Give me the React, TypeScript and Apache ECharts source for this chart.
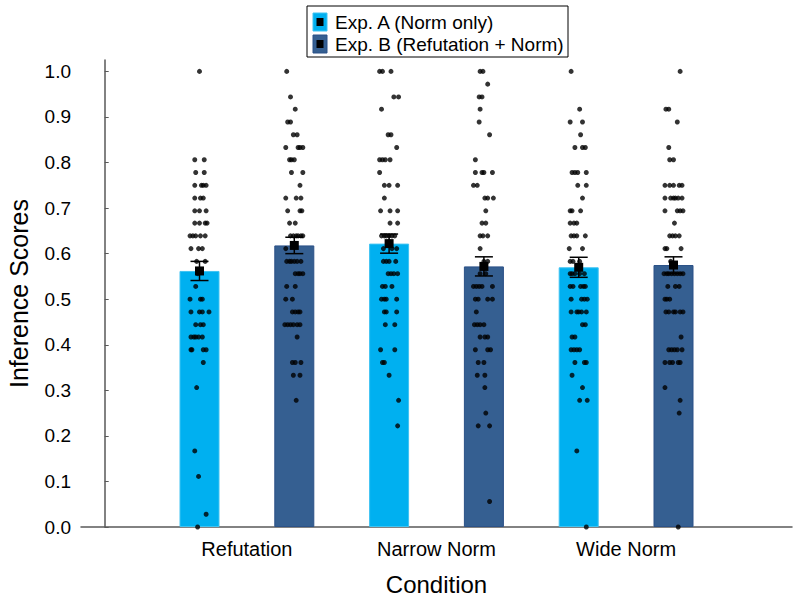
import React, { useEffect, useRef } from "react";
import * as echarts from "echarts";

const categories = ["Refutation", "Narrow Norm", "Wide Norm"];
const categoryPos = [1.5, 3.5, 5.5];
const seriesNames = ["Exp. A (Norm only)", "Exp. B (Refutation + Norm)"];
const colorA = "#00B0F0";
const colorB = "#355F91";

// bar positions on the x value axis
const posA = [1, 3, 5];
const posB = [2, 4, 6];
const meansA = [0.562, 0.622, 0.570];
const meansB = [0.618, 0.572, 0.575];
const seA = [0.021, 0.021, 0.022];
const seB = [0.018, 0.021, 0.018];

// individual scores: [value, jitter offsets in x units]
type Row = [number, number[]];
const ptsRefA: Row[] = [
  [1.0, [0.0]], [0.806, [-0.05, 0.05]], [0.778, [-0.04, 0.05]], [0.75, [-0.05, 0.02, 0.04, 0.07]],
  [0.722, [-0.05, 0.01, 0.04]], [0.694, [-0.05, 0.0, 0.07]], [0.667, [-0.05, 0.0, 0.06, 0.08]],
  [0.639, [-0.1, -0.07, -0.04, 0.01, 0.06]], [0.611, [-0.09, -0.01, 0.03]], [0.583, [-0.03, 0.06]],
  [0.556, [-0.02]], [0.528, [-0.04]], [0.5, [-0.1, 0.01, 0.03]], [0.472, [-0.09, 0.0, 0.03, 0.1]],
  [0.444, [-0.04, 0.01, 0.04]], [0.417, [-0.09, -0.06, -0.04, -0.01, 0.03]], [0.389, [-0.09, -0.08, 0.04, 0.07]],
  [0.361, [0.04]], [0.306, [-0.03]], [0.167, [-0.05]], [0.111, [-0.01]], [0.028, [0.07]], [0.0, [-0.02]],
];
const ptsRefB: Row[] = [
  [1.0, [-0.08]], [0.944, [-0.04]], [0.917, [0.01]], [0.889, [-0.07, -0.04]], [0.861, [-0.01, 0.03]],
  [0.833, [-0.09, 0.04, 0.06, 0.09]], [0.806, [-0.05, -0.03, 0.0]], [0.778, [-0.03, 0.09]], [0.75, [0.06]],
  [0.722, [-0.09, 0.02, 0.07]], [0.694, [-0.07, 0.06, 0.08]], [0.667, [-0.05, 0.01]],
  [0.639, [-0.04, -0.01, 0.02, 0.04, 0.07, 0.09]], [0.611, [-0.09]], [0.583, [-0.08, -0.05, -0.03, 0.0, 0.03, 0.07]],
  [0.556, [0.01, 0.04, 0.06, 0.09]], [0.528, [-0.08, 0.01]], [0.5, [-0.09, -0.02]], [0.472, [-0.02, 0.01, 0.04, 0.06]],
  [0.444, [-0.1, -0.07, -0.04, -0.01, 0.03, 0.06]], [0.417, [0.03]], [0.361, [-0.02, 0.01, 0.07]],
  [0.333, [-0.01, 0.06]], [0.278, [0.02]],
];
const ptsNarA: Row[] = [
  [1.0, [-0.1, -0.07, 0.02]], [0.944, [0.05, 0.1]], [0.917, [-0.08]], [0.861, [-0.01, 0.02]], [0.833, [0.08]],
  [0.806, [-0.1, -0.07, -0.04, 0.01]], [0.778, [-0.1]], [0.75, [-0.05, 0.0, 0.09]], [0.722, [-0.05]],
  [0.694, [-0.09, 0.01, 0.09]], [0.667, [0.01, 0.09]], [0.639, [-0.08, -0.05, -0.03, 0.0, 0.03, 0.06]],
  [0.611, [-0.06, 0.03, 0.08]], [0.583, [-0.06, -0.03, 0.0, 0.07]], [0.556, [-0.01, 0.02, 0.05, 0.09]],
  [0.528, [-0.07, -0.04, 0.03]], [0.5, [-0.08, -0.05, -0.03, 0.08]], [0.472, [-0.05, -0.03, 0.08]],
  [0.444, [-0.04, 0.06]], [0.389, [-0.09, 0.06]], [0.361, [-0.07, -0.05]], [0.333, [0.0]], [0.278, [0.1]], [0.222, [0.09]],
];
const ptsNarB: Row[] = [
  [1.0, [-0.04, -0.01]], [0.972, [0.04]], [0.944, [-0.05, -0.02]], [0.917, [-0.04]], [0.889, [-0.05]], [0.861, [0.06]],
  [0.806, [-0.09]], [0.778, [-0.09, -0.02, 0.0, 0.09]], [0.75, [-0.11, -0.07]], [0.722, [0.01, 0.04, 0.1]],
  [0.694, [0.02]], [0.667, [-0.02, 0.02]], [0.639, [-0.04, -0.01, 0.04]], [0.611, [-0.04]], [0.583, [0.0, 0.04]],
  [0.556, [-0.04, 0.02]], [0.528, [-0.11, -0.08, -0.05, -0.02, 0.09]], [0.5, [-0.09, -0.06, 0.04, 0.09]],
  [0.472, [-0.08]], [0.444, [-0.1, -0.07, -0.04, 0.0]], [0.417, [-0.04, 0.01, 0.04]], [0.389, [-0.09, 0.04, 0.07]],
  [0.361, [-0.06, 0.0]], [0.333, [-0.07, 0.01]], [0.306, [0.01]], [0.25, [0.02]], [0.222, [-0.06, 0.06]], [0.056, [0.06]],
];
const ptsWideA: Row[] = [
  [1.0, [-0.08]], [0.917, [0.01]], [0.889, [-0.09, 0.04]], [0.861, [0.02]], [0.833, [-0.04, 0.04, 0.07]],
  [0.778, [-0.07, -0.04, -0.01, 0.08]], [0.75, [-0.01, 0.08]], [0.722, [0.04]], [0.694, [-0.09, -0.07, 0.02]],
  [0.667, [-0.09, -0.05, -0.02]], [0.639, [-0.08, -0.05, -0.02, 0.07]], [0.611, [-0.1, 0.04]],
  [0.583, [-0.09, -0.06, 0.01]], [0.556, [-0.09, -0.07, -0.04, 0.01, 0.06]], [0.528, [-0.09, -0.06, 0.02, 0.05, 0.07]],
  [0.5, [-0.08, 0.03, 0.06, 0.09]], [0.472, [-0.08, -0.02, 0.0, 0.03, 0.08]], [0.444, [0.04, 0.07]],
  [0.417, [-0.07, -0.04]], [0.389, [-0.08, -0.05, -0.02, 0.01]], [0.361, [-0.04, 0.06, 0.08]], [0.333, [-0.07]],
  [0.306, [0.04]], [0.278, [0.01, 0.09]], [0.167, [-0.02]], [0.0, [0.08]],
];
const ptsWideB: Row[] = [
  [1.0, [0.07]], [0.917, [-0.08, -0.05]], [0.889, [0.04]], [0.833, [-0.05]], [0.806, [-0.04, 0.0]],
  [0.75, [-0.09, -0.04, 0.0, 0.06, 0.09]], [0.722, [-0.09, -0.03, 0.0, 0.02, 0.05, 0.09]],
  [0.694, [-0.09, 0.04, 0.07, 0.1]], [0.667, [0.01]], [0.639, [-0.04, -0.01, 0.02, 0.06]], [0.611, [-0.09, -0.07, 0.08]],
  [0.583, [-0.03]], [0.556, [-0.1, -0.07, -0.05, -0.02, 0.01, 0.04, 0.07, 0.1]], [0.528, [-0.06, 0.02, 0.06]],
  [0.5, [-0.09, -0.07, -0.04]], [0.472, [-0.08, -0.05, 0.0, 0.02, 0.07, 0.1]], [0.417, [0.08]],
  [0.389, [-0.05, -0.02, 0.01, 0.04, 0.09]], [0.361, [-0.09, -0.04, -0.01, 0.05, 0.07]], [0.306, [-0.09]],
  [0.278, [0.07]], [0.25, [0.06]], [0.0, [0.05]],
];

const yTicks = { min: 0, max: 1.025, interval: 0.1 };
const FONT = "Liberation Sans, Arial, Helvetica, sans-serif";

function flatten(rows: Row[], pos: number): number[][] {
  const out: number[][] = [];
  rows.forEach(([v, dxs]) => dxs.forEach((dx) => out.push([pos + dx, v])));
  return out;
}

export default function App() {
  const ref = useRef<HTMLDivElement>(null);
  useEffect(() => {
    document.body.style.margin = "0";
    if (!ref.current) return;
    const chart = echarts.init(ref.current, undefined, { renderer: "svg" });

    const points = [
      ...flatten(ptsRefA, posA[0]), ...flatten(ptsRefB, posB[0]),
      ...flatten(ptsNarA, posA[1]), ...flatten(ptsNarB, posB[1]),
      ...flatten(ptsWideA, posA[2]), ...flatten(ptsWideB, posB[2]),
    ];
    const errData = [
      ...posA.map((p, i) => [p, meansA[i], seA[i]]),
      ...posB.map((p, i) => [p, meansB[i], seB[i]]),
    ];

    const legendX = 307, legendY = 6;
    chart.setOption({
      animation: false,
      grid: { left: 81, right: 8, top: 60, bottom: 73, containLabel: false, outerBoundsMode: "none" },
      xAxis: {
        type: "value",
        min: -0.25,
        max: 7.25,
        interval: 0.25,
        splitLine: { show: false },
        axisTick: { show: false },
        axisLine: { show: true, onZero: false, lineStyle: { color: "#595959", width: 1.5 } },
        axisLabel: {
          margin: 12,
          fontSize: 20,
          fontFamily: FONT,
          color: "#000",
          formatter: (v: number) => {
            const i = categoryPos.findIndex((c) => Math.abs(c - v) < 1e-6);
            return i >= 0 ? categories[i] : "";
          },
        },
        name: "Condition",
        nameLocation: "middle",
        nameGap: 45,
        nameTextStyle: { fontSize: 24, fontFamily: FONT, color: "#000" },
      },
      yAxis: {
        type: "value",
        min: yTicks.min,
        max: yTicks.max,
        interval: yTicks.interval,
        splitLine: { show: false },
        axisLine: { show: true, lineStyle: { color: "#595959", width: 1.5 } },
        axisTick: { show: true, inside: true, length: 4, lineStyle: { color: "#595959" } },
        axisLabel: {
          margin: 10,
          fontSize: 19,
          fontFamily: FONT,
          color: "#000",
          showMaxLabel: false,
          formatter: (v: number) => v.toFixed(1),
        },
        name: "Inference Scores",
        nameLocation: "middle",
        nameGap: 50,
        nameTextStyle: { fontSize: 25, fontFamily: FONT, color: "#000" },
      },
      series: [
        {
          name: seriesNames[0],
          type: "bar",
          barWidth: 40,
          barGap: "-100%",
          data: posA.map((p, i) => [p, meansA[i]]),
          itemStyle: { color: colorA, borderColor: "#3EC3F2", borderWidth: 1 },
          z: 1,
        },
        {
          name: seriesNames[1],
          type: "bar",
          barWidth: 40,
          barGap: "-100%",
          data: posB.map((p, i) => [p, meansB[i]]),
          itemStyle: { color: colorB, borderColor: "#2B5187", borderWidth: 1 },
          z: 1,
        },
        {
          type: "scatter",
          data: points,
          symbol: "circle",
          symbolSize: 5,
          itemStyle: { color: "#000" },
          z: 3,
          silent: true,
        },
        {
          type: "custom",
          data: errData,
          z: 5,
          renderItem: (params: any, api: any) => {
            const x = api.value(0), m = api.value(1), s = api.value(2);
            const c = api.coord([x, m]);
            const t = api.coord([x, m + s]);
            const b = api.coord([x, m - s]);
            const cw = 9;
            const st = { stroke: "#000", lineWidth: 1.5 };
            return {
              type: "group",
              children: [
                { type: "line", shape: { x1: c[0], y1: t[1], x2: c[0], y2: b[1] }, style: st },
                { type: "line", shape: { x1: c[0] - cw, y1: t[1], x2: c[0] + cw, y2: t[1] }, style: st },
                { type: "line", shape: { x1: c[0] - cw, y1: b[1], x2: c[0] + cw, y2: b[1] }, style: st },
                { type: "rect", shape: { x: c[0] - 4.5, y: c[1] - 4.5, width: 9, height: 9 }, style: { fill: "#000" } },
              ],
            };
          },
        },
      ],
      graphic: [
        {
          type: "rect",
          shape: { x: legendX, y: legendY, width: 261, height: 51 },
          style: { fill: "#fff", stroke: "#000", lineWidth: 1 },
          z: 10,
        },
        {
          type: "rect",
          shape: { x: legendX + 6, y: legendY + 7, width: 14, height: 18 },
          style: { fill: colorA, stroke: "#3EC3F2", lineWidth: 1 },
          z: 11,
        },
        {
          type: "rect",
          shape: { x: legendX + 9.5, y: legendY + 12, width: 7, height: 8 },
          style: { fill: "#000" },
          z: 12,
        },
        {
          type: "rect",
          shape: { x: legendX + 6, y: legendY + 29, width: 14, height: 18 },
          style: { fill: colorB, stroke: "#2B5187", lineWidth: 1 },
          z: 11,
        },
        {
          type: "rect",
          shape: { x: legendX + 9.5, y: legendY + 34, width: 7, height: 8 },
          style: { fill: "#000" },
          z: 12,
        },
        {
          type: "text",
          x: legendX + 28,
          y: legendY + 16.5,
          style: { text: seriesNames[0], fontSize: 19, fontFamily: FONT, fill: "#000", verticalAlign: "middle" },
          z: 12,
        },
        {
          type: "text",
          x: legendX + 28,
          y: legendY + 38.5,
          style: { text: seriesNames[1], fontSize: 19, fontFamily: FONT, fill: "#000", verticalAlign: "middle" },
          z: 12,
        },
      ],
    });
    return () => chart.dispose();
  }, []);
  return <div ref={ref} style={{ width: 800, height: 600 }} />;
}
